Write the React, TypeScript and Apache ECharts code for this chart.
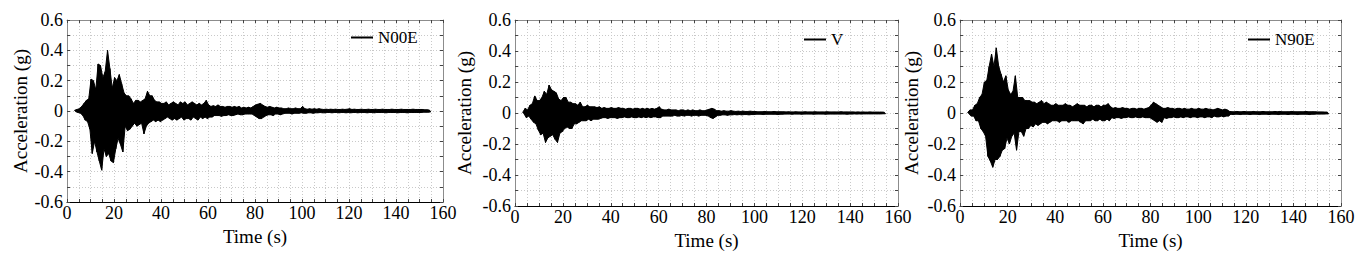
import React, { useEffect, useRef } from "react";
import * as echarts from "echarts";

// Seismic acceleration records: per 1-s window (starting at t = 3 s) the
// positive and negative peak accelerations (g).
const WINDOW_START = 3;

const n00ePos = [
  0.005, 0.01, 0.015, 0.03, 0.05, 0.07, 0.08, 0.21, 0.2, 0.14,
  0.31, 0.3, 0.22, 0.26, 0.4, 0.28, 0.15, 0.22, 0.2, 0.24,
  0.18, 0.12, 0.1, 0.1, 0.08, 0.05, 0.07, 0.07, 0.06, 0.07,
  0.08, 0.13, 0.1, 0.1, 0.07, 0.06, 0.06, 0.05, 0.05, 0.06,
  0.04, 0.05, 0.06, 0.05, 0.04, 0.06, 0.05, 0.06, 0.04, 0.05,
  0.06, 0.05, 0.04, 0.05, 0.04, 0.05, 0.07, 0.04, 0.03, 0.035,
  0.03, 0.04, 0.03, 0.03, 0.025, 0.03, 0.03, 0.025, 0.03, 0.025,
  0.03, 0.02, 0.025, 0.02, 0.025, 0.02, 0.03, 0.04, 0.045, 0.05,
  0.04, 0.03, 0.025, 0.03, 0.025, 0.02, 0.025, 0.02, 0.02, 0.015,
  0.015, 0.02, 0.015, 0.015, 0.02, 0.015, 0.015, 0.03, 0.015, 0.012,
  0.015, 0.012, 0.015, 0.012, 0.015, 0.012, 0.01, 0.012, 0.01, 0.012,
  0.01, 0.012, 0.01, 0.01, 0.012, 0.01, 0.012, 0.015, 0.01, 0.012,
  0.01, 0.01, 0.012, 0.01, 0.01, 0.012, 0.01, 0.01, 0.012, 0.01,
  0.01, 0.012, 0.01, 0.01, 0.01, 0.012, 0.01, 0.01, 0.01, 0.012,
  0.01, 0.01, 0.01, 0.01, 0.012, 0.01, 0.01, 0.01, 0.01, 0.008,
  0.008, 0.006,
];
const n00eNeg = [
  -0.005, -0.01, -0.015, -0.03, -0.06, -0.07, -0.12, -0.28, -0.2, -0.27,
  -0.33, -0.39, -0.25, -0.3, -0.28, -0.33, -0.34, -0.25, -0.18, -0.22,
  -0.27, -0.1, -0.13, -0.12, -0.1, -0.08, -0.1, -0.09, -0.08, -0.15,
  -0.1, -0.08, -0.07, -0.06, -0.07, -0.06, -0.07, -0.06, -0.05, -0.04,
  -0.05, -0.06, -0.05, -0.06, -0.05, -0.04, -0.06, -0.05, -0.05, -0.06,
  -0.04, -0.05, -0.06, -0.04, -0.05, -0.04, -0.05, -0.04, -0.04, -0.03,
  -0.03, -0.03, -0.035, -0.03, -0.03, -0.025, -0.03, -0.03, -0.025, -0.02,
  -0.025, -0.025, -0.02, -0.02, -0.02, -0.02, -0.03, -0.04, -0.05, -0.05,
  -0.04, -0.03, -0.025, -0.025, -0.03, -0.02, -0.02, -0.025, -0.02, -0.015,
  -0.015, -0.015, -0.02, -0.015, -0.015, -0.015, -0.012, -0.015, -0.015, -0.012,
  -0.012, -0.015, -0.012, -0.012, -0.01, -0.012, -0.012, -0.01, -0.01, -0.012,
  -0.01, -0.01, -0.012, -0.01, -0.01, -0.012, -0.01, -0.012, -0.01, -0.01,
  -0.012, -0.01, -0.01, -0.01, -0.012, -0.01, -0.01, -0.012, -0.01, -0.01,
  -0.01, -0.01, -0.012, -0.01, -0.01, -0.01, -0.01, -0.012, -0.01, -0.01,
  -0.01, -0.012, -0.01, -0.01, -0.01, -0.01, -0.01, -0.01, -0.008, -0.008,
  -0.008, -0.006,
];

const vPos = [
  0.005, 0.03, 0.02, 0.05, 0.06, 0.11, 0.08, 0.08, 0.1, 0.14,
  0.12, 0.18, 0.15, 0.14, 0.13, 0.09, 0.08, 0.1, 0.1, 0.07,
  0.07, 0.06, 0.06, 0.05, 0.07, 0.04, 0.04, 0.05, 0.04, 0.04,
  0.04, 0.035, 0.04, 0.03, 0.035, 0.03, 0.03, 0.035, 0.03, 0.03,
  0.035, 0.03, 0.03, 0.025, 0.03, 0.03, 0.025, 0.03, 0.03, 0.025,
  0.03, 0.025, 0.03, 0.025, 0.03, 0.025, 0.03, 0.04, 0.025, 0.02,
  0.02, 0.025, 0.02, 0.02, 0.02, 0.015, 0.02, 0.02, 0.015, 0.02,
  0.015, 0.02, 0.015, 0.015, 0.02, 0.015, 0.015, 0.02, 0.025, 0.03,
  0.025, 0.015, 0.015, 0.012, 0.015, 0.012, 0.012, 0.015, 0.012, 0.01,
  0.012, 0.01, 0.012, 0.01, 0.01, 0.012, 0.01, 0.01, 0.008, 0.008,
  0.008, 0.01, 0.008, 0.008, 0.008, 0.01, 0.008, 0.008, 0.008, 0.008,
  0.007, 0.008, 0.007, 0.007, 0.008, 0.007, 0.007, 0.007, 0.008, 0.007,
  0.007, 0.007, 0.008, 0.007, 0.007, 0.007, 0.007, 0.008, 0.007, 0.007,
  0.007, 0.007, 0.007, 0.008, 0.007, 0.007, 0.007, 0.007, 0.007, 0.006,
  0.007, 0.006, 0.007, 0.006, 0.006, 0.007, 0.006, 0.006, 0.006, 0.006,
  0.006, 0.005,
];
const vNeg = [
  -0.005, -0.03, -0.02, -0.04, -0.06, -0.07, -0.11, -0.14, -0.13, -0.19,
  -0.16, -0.15, -0.14, -0.17, -0.19, -0.13, -0.12, -0.1, -0.09, -0.1,
  -0.1, -0.07, -0.07, -0.06, -0.05, -0.05, -0.05, -0.04, -0.05, -0.04,
  -0.04, -0.04, -0.035, -0.03, -0.03, -0.035, -0.03, -0.03, -0.03, -0.035,
  -0.03, -0.03, -0.025, -0.03, -0.03, -0.025, -0.03, -0.03, -0.025, -0.03,
  -0.025, -0.03, -0.025, -0.03, -0.025, -0.025, -0.03, -0.03, -0.02, -0.02,
  -0.02, -0.02, -0.02, -0.015, -0.02, -0.02, -0.015, -0.02, -0.015, -0.015,
  -0.02, -0.015, -0.015, -0.02, -0.015, -0.015, -0.015, -0.02, -0.03, -0.035,
  -0.025, -0.015, -0.015, -0.012, -0.012, -0.015, -0.012, -0.012, -0.01, -0.012,
  -0.01, -0.012, -0.01, -0.01, -0.012, -0.01, -0.01, -0.008, -0.008, -0.008,
  -0.01, -0.008, -0.008, -0.008, -0.008, -0.008, -0.01, -0.008, -0.008, -0.007,
  -0.007, -0.007, -0.008, -0.007, -0.007, -0.007, -0.008, -0.007, -0.007, -0.007,
  -0.007, -0.008, -0.007, -0.007, -0.007, -0.007, -0.008, -0.007, -0.007, -0.007,
  -0.007, -0.007, -0.007, -0.007, -0.007, -0.008, -0.007, -0.007, -0.006, -0.007,
  -0.006, -0.007, -0.006, -0.006, -0.006, -0.006, -0.006, -0.006, -0.006, -0.006,
  -0.005, -0.005,
];

const n90ePos = [
  0.005, 0.02, 0.02, 0.05, 0.06, 0.1, 0.12, 0.2, 0.21, 0.3,
  0.38, 0.3, 0.42, 0.3, 0.25, 0.2, 0.24, 0.15, 0.12, 0.14,
  0.24, 0.1, 0.1, 0.1, 0.08, 0.08, 0.08, 0.07, 0.07, 0.06,
  0.07, 0.08, 0.06, 0.07, 0.06, 0.05, 0.05, 0.06, 0.05, 0.05,
  0.05, 0.06, 0.05, 0.05, 0.04, 0.05, 0.06, 0.05, 0.05, 0.05,
  0.04, 0.05, 0.05, 0.04, 0.05, 0.05, 0.04, 0.05, 0.05, 0.06,
  0.04, 0.03, 0.035, 0.03, 0.03, 0.035, 0.03, 0.03, 0.025, 0.03,
  0.03, 0.025, 0.03, 0.03, 0.025, 0.03, 0.035, 0.05, 0.07, 0.06,
  0.05, 0.04, 0.03, 0.03, 0.035, 0.03, 0.03, 0.025, 0.03, 0.03,
  0.025, 0.03, 0.025, 0.025, 0.03, 0.025, 0.025, 0.03, 0.025, 0.025,
  0.03, 0.025, 0.025, 0.02, 0.025, 0.03, 0.025, 0.02, 0.025, 0.02,
  0.01, 0.008, 0.008, 0.01, 0.008, 0.008, 0.01, 0.008, 0.008, 0.008,
  0.01, 0.008, 0.008, 0.008, 0.01, 0.008, 0.008, 0.008, 0.008, 0.01,
  0.008, 0.01, 0.008, 0.008, 0.008, 0.008, 0.01, 0.008, 0.008, 0.008,
  0.008, 0.008, 0.01, 0.008, 0.008, 0.008, 0.008, 0.007, 0.007, 0.007,
  0.006, 0.006,
];
const n90eNeg = [
  -0.005, -0.02, -0.02, -0.05, -0.05, -0.1, -0.12, -0.15, -0.28, -0.31,
  -0.35, -0.3, -0.3, -0.28, -0.24, -0.23, -0.16, -0.2, -0.15, -0.13,
  -0.24, -0.12, -0.12, -0.15, -0.1, -0.1, -0.08, -0.09, -0.07, -0.08,
  -0.07, -0.06, -0.06, -0.07, -0.06, -0.05, -0.05, -0.05, -0.06, -0.05,
  -0.05, -0.05, -0.06, -0.05, -0.05, -0.05, -0.05, -0.06, -0.07, -0.05,
  -0.05, -0.05, -0.04, -0.05, -0.05, -0.04, -0.05, -0.05, -0.04, -0.05,
  -0.03, -0.035, -0.03, -0.03, -0.035, -0.03, -0.03, -0.025, -0.03, -0.03,
  -0.025, -0.03, -0.03, -0.025, -0.03, -0.03, -0.03, -0.04, -0.05, -0.06,
  -0.05, -0.06, -0.03, -0.035, -0.03, -0.03, -0.025, -0.03, -0.03, -0.025,
  -0.03, -0.025, -0.025, -0.03, -0.025, -0.025, -0.03, -0.025, -0.025, -0.03,
  -0.025, -0.025, -0.03, -0.02, -0.025, -0.025, -0.02, -0.025, -0.02, -0.02,
  -0.008, -0.01, -0.008, -0.008, -0.01, -0.008, -0.008, -0.008, -0.01, -0.008,
  -0.008, -0.008, -0.01, -0.008, -0.008, -0.008, -0.01, -0.008, -0.008, -0.008,
  -0.01, -0.008, -0.008, -0.008, -0.01, -0.008, -0.008, -0.008, -0.01, -0.008,
  -0.008, -0.008, -0.008, -0.01, -0.008, -0.008, -0.007, -0.007, -0.007, -0.007,
  -0.006, -0.006,
];

const seriesNames = ["N00E", "V", "N90E"];
const posPeaks = [n00ePos, vPos, n90ePos];
const negPeaks = [n00eNeg, vNeg, n90eNeg];

const X_MIN = 0;
const X_MAX = 160;
const X_STEP = 5;
const X_LABEL_STEP = 20;
const Y_MIN = -0.6;
const Y_MAX = 0.6;
const Y_STEP = 0.1;

const FONT = "Liberation Serif";

// layout (pixels) of each panel
const layout = [
  { grid: { left: 67, top: 20, width: 376, height: 182 }, legend: { left: 351, top: 29 }, nameGap: 37 },
  { grid: { left: 515, top: 20, width: 383, height: 186 }, legend: { left: 804, top: 31 }, nameGap: 41 },
  { grid: { left: 960, top: 20, width: 381, height: 186 }, legend: { left: 1248, top: 31 }, nameGap: 39 },
];

// zig-zag between each window's positive and negative peaks
function buildTrace(pos: number[], neg: number[]): number[][] {
  const pts: number[][] = [];
  for (let i = 0; i < pos.length; i++) {
    const t = WINDOW_START + i;
    pts.push([t + 0.25, pos[i]]);
    pts.push([t + 0.75, neg[i]]);
  }
  return pts;
}
// envelope through the peaks of one sign
function buildEnvelope(peaks: number[], offset: number): number[][] {
  return peaks.map((v, i) => [WINDOW_START + i + offset, v]);
}

const GRID_COLOR = "#c9c9c9";
const FRAME_COLOR = "#8c8c8c";
const TICK_COLOR = "#444";

function buildOption() {
  const grid: any[] = [];
  const xAxis: any[] = [];
  const yAxis: any[] = [];
  const series: any[] = [];
  const legend: any[] = [];

  layout.forEach((p, i) => {
    grid.push({ ...p.grid, containLabel: false });
    xAxis.push({
      gridIndex: i,
      type: "value",
      position: "bottom",
      min: X_MIN,
      max: X_MAX,
      interval: X_STEP,
      axisLine: { show: true, onZero: false, lineStyle: { color: "#000", width: 1 } },
      axisTick: { show: true, inside: true, length: 3, lineStyle: { color: TICK_COLOR } },
      axisLabel: {
        show: true,
        margin: 2,
        color: "#000",
        fontFamily: FONT,
        fontSize: 18,
        formatter: (v: number) => (Math.round(v) % X_LABEL_STEP === 0 ? String(Math.round(v)) : ""),
      },
      splitLine: { show: true, lineStyle: { color: GRID_COLOR, type: [1, 2], width: 1 } },
      name: "Time (s)",
      nameLocation: "middle",
      nameGap: 17,
      nameTextStyle: { color: "#000", fontFamily: FONT, fontSize: 19 },
    });
    xAxis.push({
      gridIndex: i,
      type: "value",
      position: "top",
      min: X_MIN,
      max: X_MAX,
      interval: X_STEP,
      axisLine: { show: true, onZero: false, lineStyle: { color: FRAME_COLOR, width: 1 } },
      axisTick: { show: true, inside: true, length: 3, lineStyle: { color: TICK_COLOR } },
      axisLabel: { show: false },
      splitLine: { show: false },
    });
    yAxis.push({
      gridIndex: i,
      type: "value",
      position: "left",
      min: Y_MIN,
      max: Y_MAX,
      interval: Y_STEP,
      axisLine: { show: true, onZero: false, lineStyle: { color: FRAME_COLOR, width: 1 } },
      axisTick: { show: true, inside: true, length: 3, lineStyle: { color: TICK_COLOR } },
      axisLabel: {
        show: true,
        margin: 4,
        color: "#000",
        fontFamily: FONT,
        fontSize: 18,
        formatter: (v: number) => {
          const k = Math.round(v * 10);
          return k % 2 === 0 ? String(k / 10 === 0 ? 0 : k / 10) : "";
        },
      },
      splitLine: { show: true, lineStyle: { color: GRID_COLOR, type: [1, 2], width: 1 } },
      name: "Acceleration (g)",
      nameLocation: "middle",
      nameGap: p.nameGap,
      nameTextStyle: { color: "#000", fontFamily: FONT, fontSize: 19 },
    });
    yAxis.push({
      gridIndex: i,
      type: "value",
      position: "right",
      min: Y_MIN,
      max: Y_MAX,
      interval: Y_STEP,
      axisLine: { show: true, onZero: false, lineStyle: { color: FRAME_COLOR, width: 1 } },
      axisTick: { show: true, inside: true, length: 3, lineStyle: { color: TICK_COLOR } },
      axisLabel: { show: false },
      splitLine: { show: false },
    });
    const envStyle = {
      type: "line",
      xAxisIndex: 2 * i,
      yAxisIndex: 2 * i,
      showSymbol: false,
      symbol: "none",
      lineStyle: { color: "#000", width: 1 },
      areaStyle: { color: "#000", opacity: 1, origin: 0 },
      itemStyle: { color: "#000" },
      emphasis: { disabled: true },
      silent: true,
    };
    series.push({ ...envStyle, name: seriesNames[i] + " +", data: buildEnvelope(posPeaks[i], 0.25) });
    series.push({ ...envStyle, name: seriesNames[i] + " -", data: buildEnvelope(negPeaks[i], 0.75) });
    series.push({
      name: seriesNames[i],
      type: "line",
      xAxisIndex: 2 * i,
      yAxisIndex: 2 * i,
      data: buildTrace(posPeaks[i], negPeaks[i]),
      showSymbol: false,
      symbol: "none",
      lineStyle: { color: "#000", width: 1 },
      itemStyle: { color: "#000" },
      emphasis: { disabled: true },
    });
    legend.push({
      data: [seriesNames[i]],
      left: p.legend.left,
      top: p.legend.top,
      padding: 0,
      icon: "rect",
      itemWidth: 22,
      itemHeight: 2,
      textStyle: { color: "#000", fontFamily: FONT, fontSize: 17 },
      selectedMode: false,
    });
  });

  return {
    animation: false,
    backgroundColor: "#fff",
    grid,
    xAxis,
    yAxis,
    series,
    legend,
  };
}

export default function App() {
  const ref = useRef<HTMLDivElement>(null);
  useEffect(() => {
    if (!ref.current) return;
    const chart = echarts.init(ref.current, undefined, { renderer: "svg" });
    chart.setOption(buildOption() as any);
    return () => chart.dispose();
  }, []);
  return (
    <div
      ref={ref}
      style={{ position: "fixed", left: 0, top: 0, width: 1368, height: 266, background: "#fff" }}
    />
  );
}
